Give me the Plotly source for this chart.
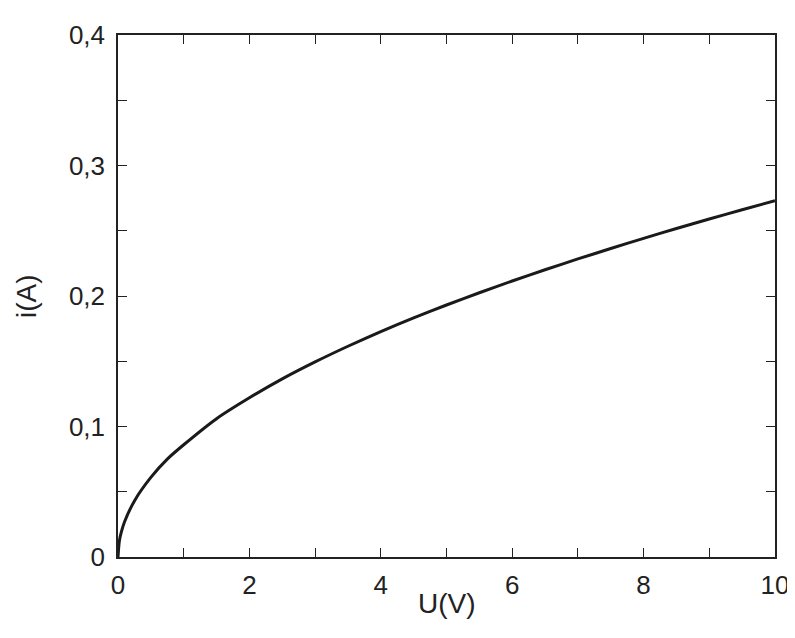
import plotly.graph_objects as go

# values
u_volts = [0, 0.02, 0.05, 0.1, 0.25, 0.5, 0.75, 1, 1.5, 2, 2.5, 3, 3.5, 4, 4.5, 5,
           5.5, 6, 6.5, 7, 7.5, 8, 8.5, 9, 9.5, 10]
i_amps = [0, 0.012, 0.019, 0.027, 0.043, 0.061, 0.075, 0.086, 0.106, 0.122, 0.1365,
          0.1495, 0.1615, 0.1727, 0.1832, 0.1931, 0.2025, 0.2115, 0.2201, 0.2284, 0.2364,
          0.2442, 0.2517, 0.259, 0.2661, 0.273]

fig = go.Figure()
fig.add_trace(go.Scatter(x=u_volts, y=i_amps, mode="lines",
                         line=dict(color="#1a1a1a", width=3, shape="spline", smoothing=0.6)))

axis_common = dict(showgrid=False, zeroline=False, showline=True, linecolor="#222",
                   linewidth=1.5, mirror="ticks", ticks="inside", ticklen=9,
                   tickcolor="#222", tickwidth=1.2,
                   tickfont=dict(family="Liberation Sans, Arial", size=26, color="#222"))

fig.update_xaxes(range=[0, 10], dtick=2, ticklabelstandoff=4,
                 minor=dict(ticks="inside", dtick=1, ticklen=9, tickcolor="#222"),
                 **axis_common)
fig.update_yaxes(range=[0, 0.4], ticklabelstandoff=6,
                 minor=dict(ticks="inside", dtick=0.05, ticklen=9, tickcolor="#222"),
                 **axis_common)
fig.update_yaxes(tickvals=[0, 0.1, 0.2, 0.3, 0.4], ticktext=["0", "0,1", "0,2", "0,3", "0,4"])

fig.add_annotation(text="U(V)", x=0.5, y=-0.09, xref="paper", yref="paper",
                   showarrow=False, yanchor="middle",
                   font=dict(family="Liberation Sans, Arial", size=28, color="#222"))
fig.add_annotation(text="i(A)", x=-0.14, y=0.5, xref="paper", yref="paper",
                   showarrow=False, textangle=-90, xanchor="center",
                   font=dict(family="Liberation Sans, Arial", size=28, color="#222"))

fig.update_layout(width=795, height=638, showlegend=False,
                  plot_bgcolor="white", paper_bgcolor="white",
                  margin=dict(l=110, r=28, t=22, b=89))
fig.write_html("out.html")
